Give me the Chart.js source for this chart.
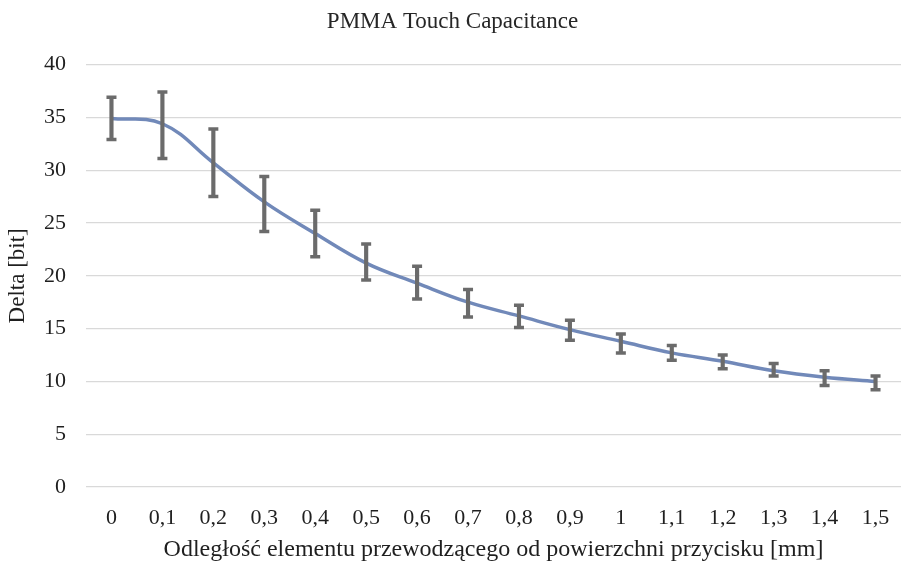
<!DOCTYPE html>
<html>
<head>
<meta charset="utf-8">
<script src="https://cdn.jsdelivr.net/npm/chart.js@4/dist/chart.umd.min.js"></script>
<style>
  html, body { margin: 0; padding: 0; background: #fff; }
  #wrap { width: 901px; height: 564px; }
</style>
</head>
<body>
<div id="wrap"><canvas id="c" width="901" height="564"></canvas></div>
<script>
const categories = ["0", "0,1", "0,2", "0,3", "0,4", "0,5", "0,6", "0,7", "0,8", "0,9", "1", "1,1", "1,2", "1,3", "1,4", "1,5"];
const meanValues = [34.9, 34.4, 30.7, 27.0, 24.0, 21.2, 19.3, 17.5, 16.2, 14.9, 13.8, 12.7, 11.9, 11.0, 10.4, 10.0];
const errorHigh  = [36.9, 37.4, 33.9, 29.4, 26.2, 23.0, 20.9, 18.7, 17.2, 15.8, 14.5, 13.4, 12.5, 11.7, 11.0, 10.5];
const errorLow   = [32.9, 31.1, 27.5, 24.2, 21.8, 19.6, 17.8, 16.1, 15.1, 13.9, 12.7, 12.0, 11.2, 10.5,  9.6,  9.2];
const yTicks = [0, 5, 10, 15, 20, 25, 30, 35, 40];

const FONT = "'Liberation Serif', 'Times New Roman', serif";
const errColor = '#6b6b6b';
const lineColor = '#7189b9';

const ranges = errorLow.map((lo, i) => [lo, errorHigh[i]]);

new Chart(document.getElementById('c'), {
  type: 'line',
  data: {
    labels: categories,
    datasets: [
      {
        type: 'bar',
        data: ranges,
        backgroundColor: errColor,
        borderWidth: 0,
        barThickness: 3.5,
        grouped: false,
        order: 0
      },
      {
        type: 'line',
        data: errorHigh,
        showLine: false,
        pointStyle: 'line',
        pointRadius: 5,
        pointBorderWidth: 3.5,
        pointBorderColor: errColor,
        borderColor: errColor,
        order: 0
      },
      {
        type: 'line',
        data: errorLow,
        showLine: false,
        pointStyle: 'line',
        pointRadius: 5,
        pointBorderWidth: 3.5,
        pointBorderColor: errColor,
        borderColor: errColor,
        order: 0
      },
      {
        type: 'line',
        data: meanValues,
        borderColor: lineColor,
        borderWidth: 3.5,
        pointRadius: 0,
        tension: 0.4,
        fill: false,
        order: 1
      }
    ]
  },
  options: {
    responsive: false,
    animation: false,
    devicePixelRatio: 1,
    layout: { autoPadding: false, padding: { left: 4, right: 0, top: 4, bottom: 0 } },
    plugins: {
      legend: { display: false },
      tooltip: { enabled: false },
      title: {
        display: true,
        text: 'PMMA Touch Capacitance',
        color: '#262626',
        font: { family: FONT, size: 23, weight: 'normal' },
        padding: { top: 4, bottom: 29 }
      }
    },
    scales: {
      x: {
        type: 'category',
        offset: true,
        grid: { display: false, drawTicks: false },
        border: { display: false },
        ticks: {
          color: '#1f1f1f',
          font: { family: FONT, size: 22 },
          padding: 18,
          maxRotation: 0,
          autoSkip: false
        },
        title: {
          display: true,
          text: 'Odległość elementu przewodzącego od powierzchni przycisku [mm]',
          color: '#1f1f1f',
          font: { family: FONT, size: 24 },
          padding: { top: 0, bottom: 0 }
        },
        afterFit: (s) => { s.height = 77; s.paddingLeft = 0; s.paddingRight = 0; }
      },
      y: {
        min: 0,
        max: 40,
        afterBuildTicks: (axis) => { axis.ticks = yTicks.map(v => ({ value: v })); },
        grid: { color: '#d9d9d9', lineWidth: 1.2, drawTicks: false },
        border: { display: false },
        ticks: {
          color: '#1f1f1f',
          font: { family: FONT, size: 22 },
          padding: 20
        },
        title: {
          display: true,
          text: 'Delta [bit]',
          color: '#1f1f1f',
          font: { family: FONT, size: 23 },
          padding: { top: 0, bottom: 0 }
        },
        afterFit: (s) => { s.width = 82; }
      }
    }
  }
});
</script>
</body>
</html>
